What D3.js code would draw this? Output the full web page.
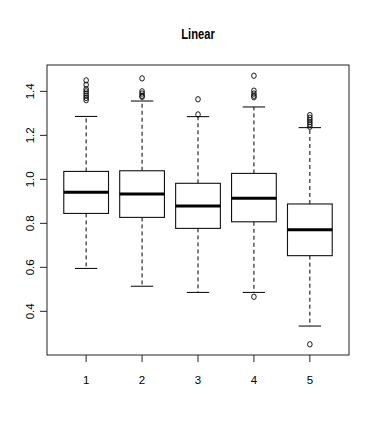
<!DOCTYPE html>
<html><head><meta charset="utf-8">
<script src="https://cdn.jsdelivr.net/npm/d3@7"></script>
<style>body{margin:0;background:#fff}</style>
</head><body>
<script>
const categories = ["1","2","3","4","5"];
const whiskerLow = [0.595, 0.514, 0.486, 0.486, 0.333];
const q1 = [0.845, 0.827, 0.777, 0.807, 0.653];
const median = [0.941, 0.933, 0.879, 0.914, 0.771];
const q3 = [1.036, 1.039, 0.982, 1.027, 0.888];
const whiskerHigh = [1.286, 1.356, 1.285, 1.329, 1.235];
const outliers = [
  [1.36, 1.37, 1.38, 1.39, 1.40, 1.41, 1.43, 1.45],
  [1.375, 1.38, 1.39, 1.40, 1.459],
  [1.295, 1.364],
  [0.466, 1.373, 1.38, 1.39, 1.403, 1.471],
  [0.25, 1.239, 1.25, 1.26, 1.27, 1.28, 1.292]
];
const yTicks = [0.4, 0.6, 0.8, 1.0, 1.2, 1.4];
const title = "Linear";

const W = 374, H = 436;
const L = 47, R = 349, T = 65, B = 355;
const svg = d3.select("body").append("svg").attr("width", W).attr("height", H);

const x = d3.scaleLinear().domain([0.3, 5.7]).range([L, R]);
const y = d3.scaleLinear().domain([0.2014, 1.5198]).range([B, T]);

svg.append("rect").attr("x", L).attr("y", T).attr("width", R - L).attr("height", B - T)
  .attr("fill", "none").attr("stroke", "#222").attr("stroke-width", 1);

const bw = 0.4, cw = 0.2;
const g = svg.append("g");
categories.forEach((c, i) => {
  const cx = x(i + 1);
  const gg = g.append("g");
  gg.append("line").attr("x1", cx).attr("x2", cx).attr("y1", y(q3[i])).attr("y2", y(whiskerHigh[i]))
    .attr("stroke", "#000").attr("stroke-dasharray", "4,3");
  gg.append("line").attr("x1", cx).attr("x2", cx).attr("y1", y(q1[i])).attr("y2", y(whiskerLow[i]))
    .attr("stroke", "#000").attr("stroke-dasharray", "4,3");
  [whiskerHigh[i], whiskerLow[i]].forEach(v => {
    gg.append("line").attr("x1", x(i + 1 - cw)).attr("x2", x(i + 1 + cw)).attr("y1", y(v)).attr("y2", y(v))
      .attr("stroke", "#000");
  });
  gg.append("rect").attr("x", x(i + 1 - bw)).attr("width", x(i + 1 + bw) - x(i + 1 - bw))
    .attr("y", y(q3[i])).attr("height", y(q1[i]) - y(q3[i]))
    .attr("fill", "#fff").attr("stroke", "#111").attr("stroke-width", 1.1);
  gg.append("line").attr("x1", x(i + 1 - bw)).attr("x2", x(i + 1 + bw)).attr("y1", y(median[i])).attr("y2", y(median[i]))
    .attr("stroke", "#000").attr("stroke-width", 3);
  outliers[i].forEach(v => {
    gg.append("ellipse").attr("cx", cx).attr("cy", y(v)).attr("rx", 2.3).attr("ry", 2.7)
      .attr("fill", "none").attr("stroke", "#000").attr("stroke-width", 0.9);
  });
});

const fontFam = "'Liberation Sans', Arial, Helvetica, sans-serif";
categories.forEach((c, i) => {
  svg.append("line").attr("x1", x(i + 1)).attr("x2", x(i + 1)).attr("y1", B).attr("y2", B + 7).attr("stroke", "#222");
  svg.append("text").attr("x", x(i + 1)).attr("y", 384).attr("text-anchor", "middle")
    .attr("font-family", fontFam).attr("font-size", 11.5).text(c);
});
yTicks.forEach(v => {
  svg.append("line").attr("x1", L - 7).attr("x2", L).attr("y1", y(v)).attr("y2", y(v)).attr("stroke", "#222");
  svg.append("text").attr("transform", `translate(34,${y(v)}) rotate(-90)`).attr("text-anchor", "middle")
    .attr("font-family", fontFam).attr("font-size", 11.5).text(v.toFixed(1));
});

svg.append("text").attr("transform", `translate(${(L + R) / 2},38.5) scale(0.8,1)`).attr("text-anchor", "middle")
  .attr("font-family", fontFam)
  .attr("font-weight", "bold").attr("font-size", 14).text(title);
</script>
</body></html>
